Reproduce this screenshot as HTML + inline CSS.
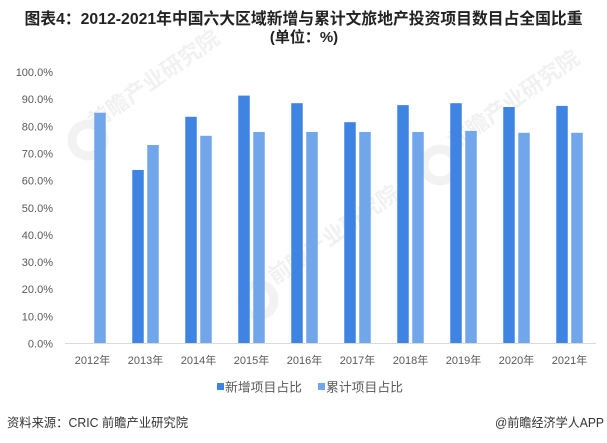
<!DOCTYPE html>
<html>
<head>
<meta charset="utf-8">
<style>
  html,body{margin:0;padding:0;background:#fff;}
  body{width:607px;height:443px;overflow:hidden;}
  svg{display:block;}
  text{font-family:"Liberation Sans","Noto Sans CJK SC",sans-serif;}
</style>
</head>
<body>
<svg width="607" height="443" viewBox="0 0 607 443" xmlns="http://www.w3.org/2000/svg">
  <rect x="0" y="0" width="607" height="443" fill="#ffffff"/>

  <!-- faint watermarks -->
  <g fill="#f1f1f1" font-size="22" font-weight="bold">
    <text transform="translate(95,130) rotate(-35)">前瞻产业研究院</text>
    <text transform="translate(275,285) rotate(-35)">前瞻产业研究院</text>
    <text transform="translate(455,150) rotate(-35)">前瞻产业研究院</text>
  </g>
  <g fill="none" stroke="#f2f2f2" stroke-width="9">
    <circle cx="88" cy="140" r="16"/>
    <circle cx="258" cy="300" r="16"/>
    <circle cx="440" cy="165" r="16"/>
  </g>

  <!-- title -->
  <text x="303.5" y="24" text-anchor="middle" font-size="16" font-weight="bold" fill="#222" textLength="558" lengthAdjust="spacingAndGlyphs">图表4：2012-2021年中国六大区域新增与累计文旅地产投资项目数目占全国比重</text>
  <text x="304" y="42" text-anchor="middle" font-size="15" font-weight="bold" fill="#222">(单位：%)</text>

  <!-- y axis labels -->
  <g font-size="11" fill="#595959" text-anchor="end">
    <text x="53" y="76">100.0%</text>
    <text x="53" y="103.2">90.0%</text>
    <text x="53" y="130.3">80.0%</text>
    <text x="53" y="157.5">70.0%</text>
    <text x="53" y="184.6">60.0%</text>
    <text x="53" y="211.8">50.0%</text>
    <text x="53" y="238.9">40.0%</text>
    <text x="53" y="266.1">30.0%</text>
    <text x="53" y="293.2">20.0%</text>
    <text x="53" y="320.4">10.0%</text>
    <text x="53" y="347.5">0.0%</text>
  </g>

  <!-- dark bars (新增) -->
  <g fill="#3F83E3">
    <rect x="132.25" y="170.0" width="11.5" height="173.5"/>
    <rect x="185.25" y="116.8" width="11.5" height="226.7"/>
    <rect x="238.25" y="95.6" width="11.5" height="247.9"/>
    <rect x="291.25" y="103.2" width="11.5" height="240.3"/>
    <rect x="344.25" y="122.2" width="11.5" height="221.3"/>
    <rect x="397.25" y="105.1" width="11.5" height="238.4"/>
    <rect x="450.25" y="103.2" width="11.5" height="240.3"/>
    <rect x="503.25" y="107.0" width="11.5" height="236.5"/>
    <rect x="556.25" y="105.9" width="11.5" height="237.6"/>
  </g>
  <!-- light bars (累计) -->
  <g fill="#71A6EB">
    <rect x="94.25" y="112.7" width="11.5" height="230.8"/>
    <rect x="147.25" y="145.0" width="11.5" height="198.5"/>
    <rect x="200.25" y="135.8" width="11.5" height="207.7"/>
    <rect x="253.25" y="132.0" width="11.5" height="211.5"/>
    <rect x="306.25" y="132.0" width="11.5" height="211.5"/>
    <rect x="359.25" y="132.0" width="11.5" height="211.5"/>
    <rect x="412.25" y="132.0" width="11.5" height="211.5"/>
    <rect x="465.25" y="130.9" width="11.5" height="212.6"/>
    <rect x="518.25" y="132.8" width="11.5" height="210.7"/>
    <rect x="571.25" y="132.8" width="11.5" height="210.7"/>
  </g>

  <!-- x axis line -->
  <line x1="65" y1="343.5" x2="596" y2="343.5" stroke="#d9d9d9" stroke-width="1"/>

  <!-- x labels -->
  <g font-size="11" fill="#595959" text-anchor="middle">
    <text x="92.5" y="364">2012年</text>
    <text x="145.5" y="364">2013年</text>
    <text x="198.5" y="364">2014年</text>
    <text x="251.5" y="364">2015年</text>
    <text x="304.5" y="364">2016年</text>
    <text x="357.5" y="364">2017年</text>
    <text x="410.5" y="364">2018年</text>
    <text x="463.5" y="364">2019年</text>
    <text x="516.5" y="364">2020年</text>
    <text x="569.5" y="364">2021年</text>
  </g>

  <!-- legend -->
  <rect x="217" y="383" width="7" height="7" fill="#3F83E3"/>
  <text x="225" y="391.5" font-size="12.5" fill="#595959" textLength="77" lengthAdjust="spacingAndGlyphs">新增项目占比</text>
  <rect x="318" y="383" width="7" height="7" fill="#71A6EB"/>
  <text x="326" y="391.5" font-size="12.5" fill="#595959" textLength="77" lengthAdjust="spacingAndGlyphs">累计项目占比</text>

  <!-- footer -->
  <text x="7" y="427" font-size="12.5" fill="#333" textLength="181" lengthAdjust="spacingAndGlyphs">资料来源：CRIC 前瞻产业研究院</text>
  <text x="604" y="427" font-size="12.5" fill="#333" text-anchor="end" textLength="109" lengthAdjust="spacingAndGlyphs">@前瞻经济学人APP</text>
</svg>
</body>
</html>
